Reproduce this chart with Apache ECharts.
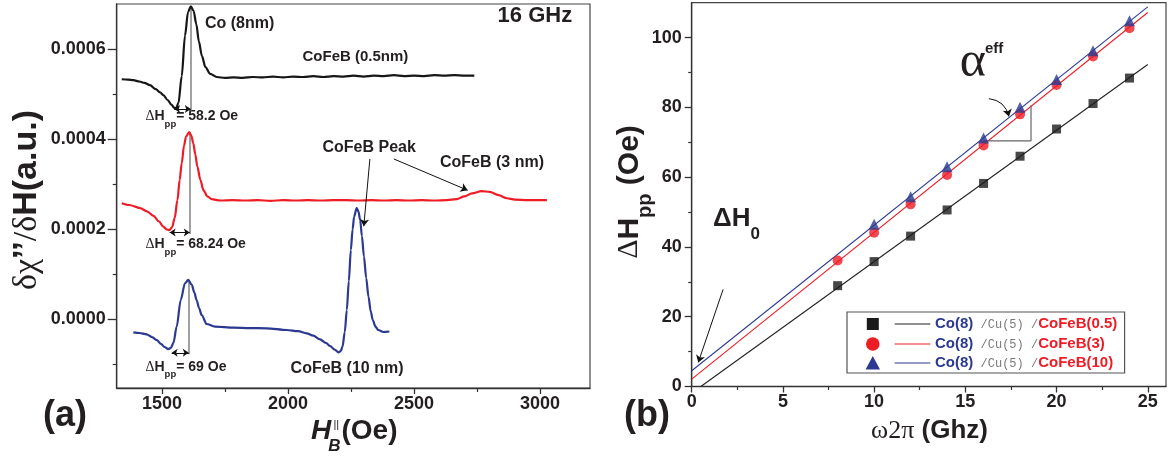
<!DOCTYPE html>
<html>
<head>
<meta charset="utf-8">
<script src="https://cdn.jsdelivr.net/npm/echarts@6/dist/echarts.min.js"></script>
<style>
  html, body { margin: 0; padding: 0; background: #fff; }
  #chart { width: 1172px; height: 457px; }
</style>
</head>
<body>
<div id="chart"></div>
<script>
// ---------------- DATA ----------------
// Panel (a): FMR derivative spectra at 16 GHz (field in Oe, signal in a.u.)
const fieldCoFeB05 = [1340,1365,1386,1410,1430,1452,1475,1492,1505,1522,1538,1548,1555,1565,1578,1591,1603,1614,1625,1636,1646,1658,1672,1691,1717,1750,1783,1820,1860,1900,1940,1980,2020,2060,2100,2140,2180,2220,2260,2300,2340,2380,2420,2460,2500,2540,2580,2620,2660,2700,2739];
const signalCoFeB05 = [0.000533,0.000532,0.000531,0.000528,0.000525,0.000520,0.000511,0.000504,0.000498,0.000487,0.000476,0.000470,0.000468,0.000480,0.000540,0.000630,0.000682,0.000695,0.000685,0.000655,0.000617,0.000585,0.000560,0.000545,0.000538,0.000536,0.000537,0.000536,0.000538,0.000537,0.000539,0.000537,0.000539,0.000538,0.000540,0.000538,0.000540,0.000539,0.000541,0.000539,0.000541,0.000540,0.000542,0.000540,0.000541,0.000540,0.000542,0.000541,0.000542,0.000541,0.000541];

const fieldCoFeB3 = [1340,1370,1413,1440,1466,1487,1505,1518,1529,1540,1550,1561,1570,1578,1587,1595,1608,1616,1624,1632,1640,1652,1664,1680,1697,1730,1780,1830,1880,1930,1980,2030,2080,2130,2180,2230,2280,2330,2380,2430,2480,2530,2580,2630,2669,2700,2730,2768,2800,2835,2868,2900,2950,3000,3027];
const signalCoFeB3 = [0.000258,0.000254,0.000247,0.000240,0.000230,0.000218,0.000206,0.000200,0.000198,0.000205,0.000225,0.000265,0.000310,0.000347,0.000385,0.000406,0.000416,0.000408,0.000391,0.000366,0.000339,0.000310,0.000287,0.000273,0.000267,0.000264,0.000265,0.000264,0.000265,0.000263,0.000265,0.000264,0.000265,0.000264,0.000265,0.000265,0.000264,0.000265,0.000264,0.000265,0.000264,0.000265,0.000264,0.000265,0.000267,0.000273,0.000280,0.000285,0.000283,0.000276,0.000269,0.000266,0.000265,0.000265,0.000265];

const fieldCoFeB10 = [1386,1410,1439,1460,1479,1495,1510,1525,1535,1545,1558,1574,1591,1604,1618,1628,1637,1647,1657,1677,1710,1783,1850,1915,1995,2040,2074,2100,2127,2150,2167,2185,2200,2209,2216,2225,2233,2241,2249,2256,2262,2272,2279,2286,2293,2301,2310,2319,2328,2336,2347,2358,2378,2402];
const signalCoFeB10 = [-0.0000284,-0.000030,-0.0000329,-0.000039,-0.0000456,-0.000054,-0.000061,-0.0000656,-0.000063,-0.000052,-0.000016,0.0000433,0.0000804,0.0000878,0.0000767,0.000060,0.0000433,0.000025,0.00001,-0.00001,-0.000016,-0.0000182,-0.000019,-0.0000195,-0.0000233,-0.000026,-0.0000307,-0.000036,-0.000044,-0.000052,-0.0000589,-0.000067,-0.0000729,-0.000070,-0.0000604,-0.000028,0.0000211,0.000085,0.000154,0.000200,0.000228,0.000247,0.000240,0.000221,0.000185,0.00014,0.000092,0.0000507,0.000018,-0.0000011,-0.000016,-0.0000233,-0.0000278,-0.0000267];

// Peak-to-peak markers: [minField, peakField, arrowLevel, peakTop]
const ppMarkCoFeB05 = [1548, 1614, 0.000467, 0.000695];
const ppMarkCoFeB3  = [1530, 1610, 0.000193, 0.000416];
const ppMarkCoFeB10 = [1538, 1606, -0.0000738, 0.0000878];
const ppLabels = ['58.2 Oe', '68.24 Oe', '69 Oe'];

// Panel (b): linewidth vs frequency
const freqGHz = [8,10,12,14,16,18,20,22,24];
const dHppCoFeB05 = [28.9,35.8,43.1,50.6,58.2,66.0,73.8,81.1,88.4];
const dHppCoFeB3  = [36.1,44.1,52.2,60.6,69.1,78.0,86.4,94.6,102.7];
const freqGHz10   = [10,12,14,16,18,20,22,24];
const dHppCoFeB10 = [46.5,54.4,63.0,71.2,80.0,88.0,96.2,104.8];
const fitCoFeB05 = [[0.5,0],[25,92.3]];
const fitCoFeB3  = [[0,2.1],[25,107.2]];
const fitCoFeB10 = [[0,4.5],[25,108.8]];
const slopeTriangle = [[16.0,70.4],[18.6,70.4],[18.6,80.6]];

// Tick values
const fieldTicks = [1500,2000,2500,3000], fieldMinor = [1750,2250,2750];
const signalTicks = [0,0.0002,0.0004,0.0006], signalMinor = [-0.0001,0.0001,0.0003,0.0005];
const freqTicks = [0,5,10,15,20,25], freqMinor = [2.5,7.5,12.5,17.5,22.5];
const widthTicks = [0,20,40,60,80,100], widthMinor = [10,30,50,70,90];

const legendNames = ['CoFeB(0.5)','CoFeB(3)','CoFeB(10)'];

// ---------------- STYLE ----------------
const SANS = '"Liberation Sans", Arial, Helvetica, sans-serif';
const SERIF = '"Liberation Serif", "Times New Roman", serif';
const MONO = '"Liberation Mono", "Courier New", monospace';
const INK = '#231f20';
const BLACK = '#161616', RED = '#ee1c25', BLUE = '#2b3990', GRAY = '#8a8a8a';

const zip = (a, b) => a.map((v, i) => [v, b[i]]);

const mctx = document.createElement('canvas').getContext('2d');
function fontCss(p) { return (p.italic ? 'italic ' : '') + (p.bold ? 'bold ' : '') + p.size + 'px ' + (p.family || SANS); }
function textRun(x, y, pieces, opt) {
  opt = opt || {};
  const widths = pieces.map(p => { mctx.font = fontCss(p); return mctx.measureText(p.t).width; });
  const total = widths.reduce((a, b) => a + b, 0) + pieces.reduce((a, p) => a + (p.dx || 0), 0);
  let cx = opt.align === 'center' ? -total / 2 : (opt.align === 'right' ? -total : 0);
  const children = pieces.map((p, i) => {
    cx += (p.dx || 0);
    const el = { type: 'text', x: cx, y: (p.dy || 0) - 0.35 * p.size, z: opt.z || 0,
      style: { text: p.t, font: fontCss(p), fill: p.color || INK, align: 'left', verticalAlign: 'middle', textAlign: 'left', textVerticalAlign: 'middle' } };
    cx += widths[i];
    return el;
  });
  return { type: 'group', x: x, y: y, rotation: opt.rotation || 0, silent: true, z: opt.z || 0, children: children };
}

function axes(dim, grid, min, max, ticks, minor, fmt, tickLen, minorLen, margin) {
  const position = dim === 'x' ? 'bottom' : 'left';
  const main = {
    type: 'value', gridIndex: grid, min: min, max: max, position: position,
    axisLine: { show: true, onZero: false, lineStyle: { color: '#333', width: 1.3 } },
    axisTick: { show: true, customValues: ticks, length: tickLen, lineStyle: { color: '#333', width: 1.3 } },
    axisLabel: { customValues: ticks, formatter: fmt, margin: margin, color: INK, fontSize: 18, fontWeight: 'bold', fontFamily: SANS },
    splitLine: { show: false }, minorTick: { show: false }
  };
  const sub = {
    type: 'value', gridIndex: grid, min: min, max: max, position: position,
    axisLine: { show: false, onZero: false },
    axisTick: { show: true, customValues: minor, length: minorLen, lineStyle: { color: '#333', width: 1.2 } },
    axisLabel: { show: false }, splitLine: { show: false }
  };
  return [main, sub];
}

const xAxes = [
  ...axes('x', 0, 1320, 3198, fieldTicks, fieldMinor, v => String(v), 6, 4, 7),
  ...axes('x', 1, 0, 26, freqTicks, freqMinor, v => String(v), 6, 3.5, 7)
];
const yAxes = [
  ...axes('y', 0, -0.000152, 0.0007, signalTicks, signalMinor, v => v.toFixed(4), 9, 4, 11),
  ...axes('y', 1, 0, 110, widthTicks, widthMinor, v => String(v), 7, 3.5, 10)
];

const seriesA = { xAxisIndex: 0, yAxisIndex: 0 };
const seriesB = { xAxisIndex: 2, yAxisIndex: 2 };

function curve(fields, signals, color) {
  return Object.assign({ type: 'line', data: zip(fields, signals), symbol: 'none', showSymbol: false,
    smooth: 0.3, smoothMonotone: 'x', lineStyle: { color: color, width: 2.2 }, z: 3, silent: true }, seriesA);
}
const ppMarks = [ppMarkCoFeB05, ppMarkCoFeB3, ppMarkCoFeB10];

const series = [
  curve(fieldCoFeB05, signalCoFeB05, BLACK),
  curve(fieldCoFeB3, signalCoFeB3, RED),
  curve(fieldCoFeB10, signalCoFeB10, BLUE),
  Object.assign({ type: 'lines', coordinateSystem: 'cartesian2d', symbol: 'none', z: 2, silent: true,
    lineStyle: { color: GRAY, width: 1.6, opacity: 1 },
    data: ppMarks.map(m => ({ coords: [[m[1], m[3]], [m[1], m[2] - 0.0000035]] })) }, seriesA),
  Object.assign({ type: 'lines', coordinateSystem: 'cartesian2d', symbol: ['arrow', 'arrow'], symbolSize: 6, z: 4, silent: true,
    lineStyle: { color: '#111', width: 1, opacity: 1 },
    data: ppMarks.map(m => ({ coords: [[m[0], m[2]], [m[1], m[2]]] })) }, seriesA),
  Object.assign({ type: 'lines', coordinateSystem: 'cartesian2d', symbol: ['none', 'arrow'], symbolSize: 7, z: 4, silent: true,
    lineStyle: { color: '#111', width: 1, opacity: 1 },
    data: [ { coords: [[2324.6, 0.0003562], [2300.4, 0.0002069]] },
            { coords: [[2419.4, 0.0003562], [2712.6, 0.0002867]] } ] }, seriesA),

  // Panel (b)
  Object.assign({ type: 'line', data: fitCoFeB05, symbol: 'none', lineStyle: { color: '#222', width: 1.1 }, z: 2, silent: true }, seriesB),
  Object.assign({ type: 'line', data: fitCoFeB3, symbol: 'none', lineStyle: { color: RED, width: 1.1 }, z: 2, silent: true }, seriesB),
  Object.assign({ type: 'line', data: fitCoFeB10, symbol: 'none', lineStyle: { color: BLUE, width: 1.1 }, z: 2, silent: true }, seriesB),
  Object.assign({ name: legendNames[0], type: 'scatter', data: zip(freqGHz, dHppCoFeB05), symbol: 'rect', symbolSize: 9, itemStyle: { color: '#1a1a1a' }, z: 4, silent: true }, seriesB),
  Object.assign({ name: legendNames[1], type: 'scatter', data: zip(freqGHz, dHppCoFeB3), symbol: 'circle', symbolSize: 10, itemStyle: { color: RED }, z: 5, silent: true }, seriesB),
  Object.assign({ name: legendNames[2], type: 'scatter', data: zip(freqGHz10, dHppCoFeB10), symbol: 'triangle', symbolSize: 11, itemStyle: { color: BLUE }, z: 6, silent: true }, seriesB),
  Object.assign({ type: 'line', data: slopeTriangle, symbol: 'none', lineStyle: { color: '#666', width: 1.2 }, z: 3, silent: true }, seriesB),
  Object.assign({ type: 'lines', coordinateSystem: 'cartesian2d', symbol: ['none', 'arrow'], symbolSize: 7, z: 4, silent: true,
    lineStyle: { color: '#111', width: 1, opacity: 1 },
    data: [ { coords: [[1.72, 27.8], [0.36, 6.9]] } ] }, seriesB),
  Object.assign({ type: 'lines', coordinateSystem: 'cartesian2d', symbol: ['none', 'arrow'], symbolSize: 7, z: 4, silent: true,
    lineStyle: { color: '#111', width: 1, opacity: 1, curveness: 0.35 },
    data: [ { coords: [[16.29, 82.5], [17.39, 77.4]] } ] }, seriesB)
];

// ---------------- GRAPHIC TEXTS ----------------
const B = true;
const graphics = [
  // panel (a)
  textRun(205, 29, [{ t: 'Co (8nm)', bold: B, size: 16 }]),
  textRun(302.5, 62, [{ t: 'CoFeB (0.5nm)', bold: B, size: 15 }]),
  textRun(497.6, 23.3, [{ t: '16 GHz', bold: B, size: 22 }]),
  textRun(322.5, 153.5, [{ t: 'CoFeB Peak', bold: B, size: 16 }]),
  textRun(440, 168, [{ t: 'CoFeB (3 nm)', bold: B, size: 16 }]),
  textRun(290.6, 374, [{ t: 'CoFeB (10 nm)', bold: B, size: 16 }]),
  ...[121.5, 249.5, 371.8].map((yb, i) => textRun(145.5, yb, [
    { t: 'Δ', size: 14, family: SERIF }, { t: 'H', bold: B, size: 14 },
    { t: 'pp', bold: B, size: 9.5, dy: 6 }, { t: '= ' + ppLabels[i], bold: B, size: 14 }])),
  textRun(43, 428.5, [{ t: '(a)', bold: B, size: 36 }]),
  textRun(39, 200, [{ t: 'δχ', size: 34, family: SERIF }, { t: '’’', bold: B, size: 34 },
    { t: '/δ', size: 34, family: SERIF }, { t: 'H(a.u.)', bold: B, size: 34 }], { align: 'center', rotation: Math.PI / 2 }),
  textRun(311, 441, [{ t: 'H', bold: B, italic: true, size: 28 }, { t: 'B', bold: B, italic: true, size: 17, dy: 11, dx: -3 },
    { t: '(Oe)', bold: B, size: 28, dx: 1 }]),
  textRun(333.5, 429, [{ t: '||', size: 11 }]),
  // panel (b)
  textRun(624, 428.5, [{ t: '(b)', bold: B, size: 36 }]),
  textRun(929.5, 440, [{ t: 'ω2π', size: 26, family: SERIF }, { t: ' (Ghz)', bold: B, size: 26 }], { align: 'center' }),
  textRun(959.7, 80.5, [{ t: 'α', size: 50, family: SERIF }]),
  textRun(985, 54, [{ t: 'eff', bold: B, size: 15 }]),
  textRun(713, 228, [{ t: 'ΔH', bold: B, size: 26 }, { t: '0', bold: B, size: 17, dy: 12 }]),
  textRun(640, 192, [{ t: 'Δ', size: 30, family: SERIF }, { t: 'H', bold: B, size: 30 },
    { t: 'pp', bold: B, size: 20, dy: 12 }, { t: ' (Oe)', bold: B, size: 30 }], { align: 'center', rotation: Math.PI / 2 }),
  // legend box
  { type: 'rect', shape: { x: 847, y: 312, width: 277.6, height: 61 }, style: { fill: '#fff', stroke: '#555', lineWidth: 1.2 }, z: 10, silent: true },
  { type: 'rect', shape: { x: 866.8, y: 318, width: 12, height: 12 }, style: { fill: '#1a1a1a' }, z: 11, silent: true },
  { type: 'circle', shape: { cx: 872.8, cy: 344, r: 6.8 }, style: { fill: RED }, z: 11, silent: true },
  { type: 'polygon', shape: { points: [[872.8, 356], [880, 369.5], [865.6, 369.5]] }, style: { fill: BLUE }, z: 11, silent: true },
  ...[[324, '#222'], [344, RED], [363, BLUE]].map(r => ({ type: 'line', shape: { x1: 894.6, y1: r[0], x2: 930.3, y2: r[0] }, style: { stroke: r[1], lineWidth: 1 }, z: 11, silent: true })),
  ...[324, 344, 363].map((ry, i) => textRun(935, ry + 5.3, [
    { t: 'Co(8)', bold: B, size: 15, color: BLUE }, { t: ' /Cu(5) /', size: 12, family: MONO, color: '#7a7a7a' },
    { t: legendNames[i], bold: B, size: 15, color: RED }], { z: 12 }))
];

const chart = echarts.init(document.getElementById('chart'), null, { renderer: 'canvas' });
chart.setOption({
  animation: false,
  backgroundColor: '#fff',
  grid: [
    { left: 116.7, top: 4, width: 473.3, height: 384, show: true, borderColor: '#444', borderWidth: 1.2, backgroundColor: 'transparent' },
    { left: 691.7, top: 2.7, width: 474.3, height: 383.8, show: true, borderColor: '#444', borderWidth: 1.2, backgroundColor: 'transparent' }
  ],
  xAxis: xAxes,
  yAxis: yAxes,
  series: series,
  graphic: graphics
});
</script>
</body>
</html>
